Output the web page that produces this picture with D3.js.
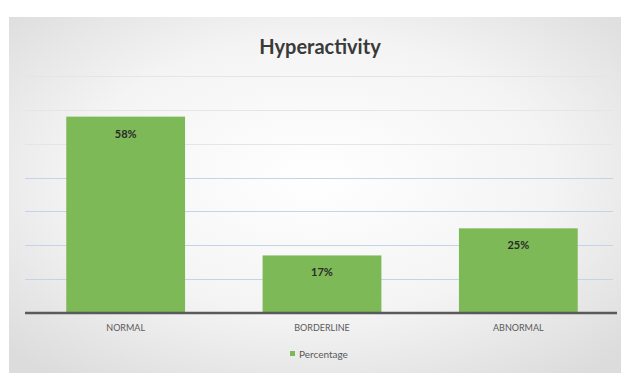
<!DOCTYPE html>
<html>
<head>
<meta charset="utf-8">
<script src="https://cdn.jsdelivr.net/npm/d3@7"></script>
<style>
  body { margin: 0; background: #fff; }
  svg { display: block; font-family: Lato, "Open Sans", sans-serif; }
</style>
</head>
<body>
<div class="chart"></div>
<script>
var categories = ['NORMAL', 'BORDERLINE', 'ABNORMAL'];
var percentages = [58, 17, 25];
var gridTicks = [10, 20, 30, 40, 50, 60, 70];
var seriesName = 'Percentage';
var title = 'Hyperactivity';

var W = 621, H = 373;
var margin = { top: 76, right: 4, bottom: 60, left: 27 };
var width = W - margin.left - margin.right;
var height = H - margin.top - margin.bottom;

var svg = d3.select('.chart')
  .append('svg')
    .attr('width', W)
    .attr('height', H);

// chart area background with soft gray edges
var defs = svg.append('defs');
var grad = defs.append('radialGradient')
    .attr('id', 'bg')
    .attr('cx', '50%').attr('cy', '45%').attr('r', '70%');
grad.append('stop').attr('offset', '0%').attr('stop-color', '#ffffff');
grad.append('stop').attr('offset', '55%').attr('stop-color', '#f4f4f4');
grad.append('stop').attr('offset', '100%').attr('stop-color', '#dcdcdc');

svg.append('rect')
    .attr('x', 9).attr('y', 17)
    .attr('width', W - 9).attr('height', H - 17)
    .attr('fill', 'url(#bg)');

var g = svg.append('g')
    .attr('transform', 'translate(' + margin.left + ',' + margin.top + ')');

var x = d3.scaleBand()
    .domain(categories)
    .range([0, width])
    .paddingInner(0.395)
    .paddingOuter(0.2);

var y = d3.scaleLinear()
    .domain([0, 70])
    .range([height, 0]);

// gridlines
g.selectAll('.grid')
  .data(gridTicks)
  .enter()
  .append('line')
    .attr('class', 'grid')
    .attr('x1', -2).attr('x2', width - 4)
    .attr('y1', d => Math.round(y(d)) + 0.5)
    .attr('y2', d => Math.round(y(d)) + 0.5)
    .attr('stroke', d => d >= 50 ? '#e2e6ec' : '#c3d4ea')
    .attr('stroke-width', 1.2);

// bars
g.selectAll('.bar')
  .data(percentages)
  .enter()
  .append('rect')
    .attr('class', 'bar')
    .attr('x', (d, i) => x(categories[i]))
    .attr('y', d => y(d))
    .attr('width', x.bandwidth())
    .attr('height', d => height - y(d))
    .attr('fill', '#7db956');

// data labels
g.selectAll('.val')
  .data(percentages)
  .enter()
  .append('text')
    .attr('class', 'val')
    .attr('x', (d, i) => x(categories[i]) + x.bandwidth() / 2)
    .attr('y', d => y(d) + 21)
    .attr('text-anchor', 'middle')
    .attr('font-size', '11px')
    .attr('font-weight', 'bold')
    .attr('fill', '#2a2a2a')
    .text(d => d + '%');

// x axis
var xAxis = d3.axisBottom(x).tickSize(0).tickPadding(12);
var ax = g.append('g')
    .attr('transform', 'translate(0,' + height + ')')
    .call(xAxis);
ax.select('.domain').remove();
ax.append('line')
    .attr('x1', -2).attr('x2', width)
    .attr('stroke', '#5a5a5a')
    .attr('stroke-width', 2.5);
ax.selectAll('text')
    .attr('font-family', 'Lato, "Open Sans", sans-serif')
    .attr('font-size', '9px')
    .attr('fill', '#595959');

// title
svg.append('text')
    .attr('x', 320)
    .attr('y', 54)
    .attr('text-anchor', 'middle')
    .attr('font-size', '20px')
    .attr('font-weight', 'bold')
    .attr('fill', '#3a3a3a')
    .text(title);

// legend
var leg = svg.append('g').attr('transform', 'translate(290,355)');
leg.append('rect')
    .attr('x', 0).attr('y', -4)
    .attr('width', 5).attr('height', 5)
    .attr('fill', '#7db956');
leg.append('text')
    .attr('x', 9).attr('y', 3)
    .attr('font-size', '10px')
    .attr('fill', '#595959')
    .text(seriesName);
</script>
</body>
</html>
